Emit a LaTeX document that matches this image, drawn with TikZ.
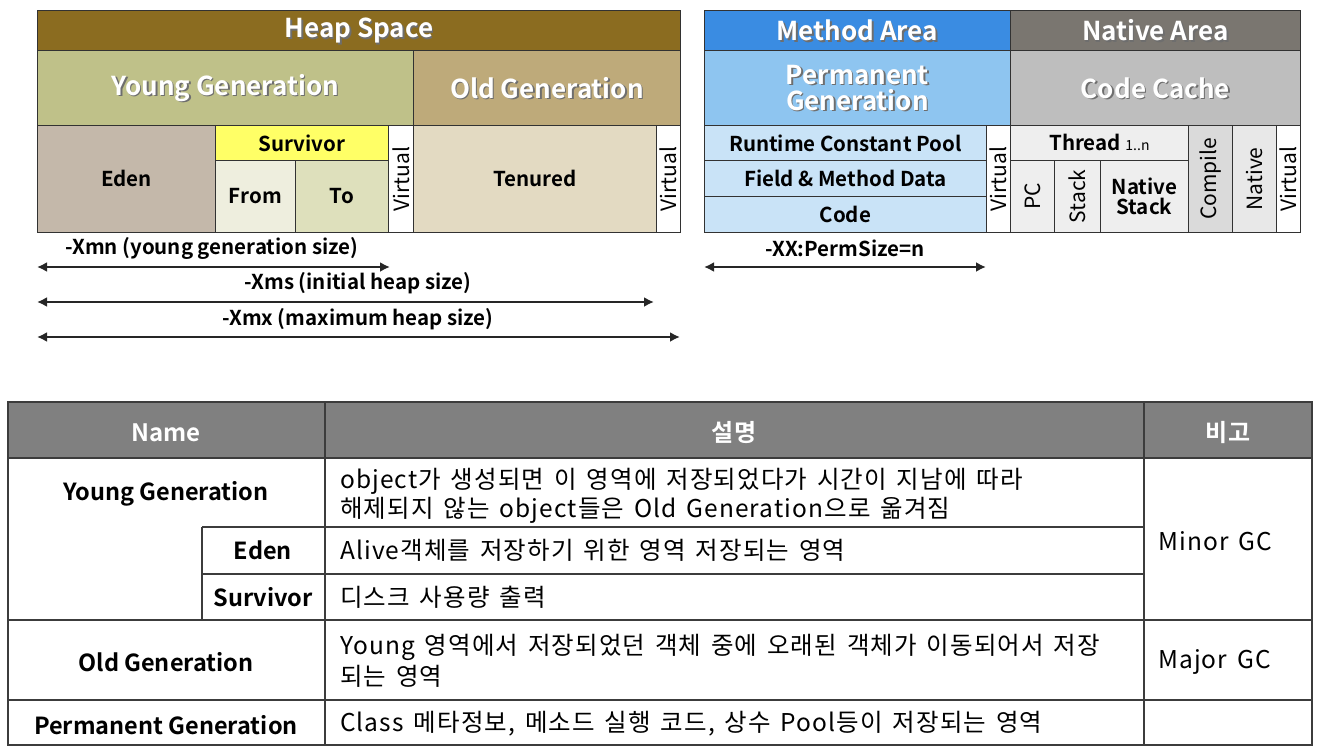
\documentclass[tikz,border=0pt]{standalone}
\usepackage{fontspec}
\setmainfont{Noto Sans CJK KR}[BoldFont={Noto Sans CJK KR Bold}]
\newfontfamily\tblfont{Noto Sans CJK KR}[WordSpace=1.5, LetterSpace=4.5]
\usetikzlibrary{arrows.meta}
\definecolor{heapbrown}{RGB}{139,108,32}
\definecolor{younggreen}{RGB}{191,193,137}
\definecolor{oldtan}{RGB}{190,170,122}
\definecolor{edengray}{RGB}{196,184,170}
\definecolor{survyellow}{RGB}{255,255,102}
\definecolor{fromfill}{RGB}{238,238,222}
\definecolor{tofill}{RGB}{222,224,188}
\definecolor{tenuredfill}{RGB}{227,218,194}
\definecolor{methodblue}{RGB}{58,140,226}
\definecolor{nativegray}{RGB}{122,118,112}
\definecolor{permblue}{RGB}{142,197,240}
\definecolor{cachegray}{RGB}{190,190,190}
\definecolor{poolblue}{RGB}{201,227,247}
\definecolor{threadgray}{RGB}{238,238,238}
\definecolor{compilegray}{RGB}{218,218,218}
\definecolor{nativecell}{RGB}{232,232,232}
\definecolor{cellline}{RGB}{50,50,50}
\definecolor{shadowgray}{RGB}{110,110,110}
\definecolor{tblhead}{RGB}{128,128,128}
\definecolor{tblline}{RGB}{60,60,60}
\tikzset{
  box_cell/.style = {draw=cellline, line width=0.8pt, inner sep=0pt,
    anchor=north west},% case du schema
  big_txt/.style = {font=\fontsize{26}{29}\bfseries\selectfont, align=center},% titre de zone
  head_txt/.style = {font=\fontsize{26}{29}\bfseries\selectfont},% titre du bandeau
  cell_txt/.style = {font=\fontsize{20.5}{23}\bfseries\selectfont, align=center,
    text=black},% texte de case
  side_txt/.style = {font=\fontsize{21}{23}\selectfont, rotate=90, text=black},% texte vertical
  dim_txt/.style = {font=\fontsize{20.5}{24}\bfseries\selectfont},% option de taille
  dim_arrow/.style = {{Latex[length=10pt,width=10pt]}-{Latex[length=10pt,width=10pt]},
    line width=2pt, draw=black!85},% fleche de taille
  tbl_line/.style = {draw=tblline, line width=1.4pt},% trait du tableau
  tbl_head/.style = {font=\fontsize{24}{28}\bfseries\selectfont, text=white},
  tbl_name/.style = {font=\fontsize{23.5}{27}\bfseries\selectfont},
  tbl_txt/.style = {font=\tblfont\fontsize{24.5}{28}\selectfont, anchor=west, inner sep=0pt}
}
% case : nom, x, y, couleur, largeur, hauteur
\newcommand{\blk}[6]{\node[box_cell, fill=#4, minimum width=#5pt,
  minimum height=#6pt] (#1) at (#2,#3) {};}
% titre blanc ombre : nom, case, style, texte
\newcommand{\shd}[4]{\node[#3, text=shadowgray, xshift=1.6pt, yshift=-1.6pt]
  at (#2.center) {#4};
  \node[#3, text=white] (#1) at (#2.center) {#4};}

\begin{document}
\begin{tikzpicture}[x=1pt, y=-1pt]
  \useasboundingbox (0,0) rectangle (1320,752);
  % heap
  \blk{heap}{37}{10}{heapbrown}{643}{40}
  \blk{young}{37}{50}{younggreen}{376}{75}
  \blk{old}{413}{50}{oldtan}{267}{75}
  \blk{eden}{37}{125}{edengray}{178}{107}
  \blk{surv}{215}{125}{survyellow}{173}{35}
  \blk{from}{215}{160}{fromfill}{80}{72}
  \blk{to}{295}{160}{tofill}{93}{72}
  \blk{virt_y}{388}{125}{white}{25}{107}
  \blk{tenured}{413}{125}{tenuredfill}{243}{107}
  \blk{virt_o}{656}{125}{white}{24}{107}
  \shd{heap_t}{heap}{head_txt}{Heap Space}
  \shd{young_t}{young}{big_txt}{Young Generation}
  \shd{old_t}{old}{big_txt}{Old Generation}
  \node[cell_txt] (eden_t) at (eden.center) {Eden};
  \node[cell_txt] (surv_t) at (surv.center) {Survivor};
  \node[cell_txt] (from_t) at (from.center) {From};
  \node[cell_txt] (to_t) at (to.center) {To};
  \node[side_txt] (virt_y_t) at (virt_y.center) {Virtual};
  \node[cell_txt] (tenured_t) at (tenured.center) {Tenured};
  \node[side_txt] (virt_o_t) at (virt_o.center) {Virtual};
  % method / native
  \blk{method}{704}{10}{methodblue}{306}{40}
  \blk{native}{1010}{10}{nativegray}{290}{40}
  \blk{perm}{704}{50}{permblue}{306}{75}
  \blk{cache}{1010}{50}{cachegray}{290}{75}
  \blk{pool}{704}{125}{poolblue}{282}{35}
  \blk{field}{704}{160}{poolblue}{282}{36}
  \blk{code}{704}{196}{poolblue}{282}{36}
  \blk{virt_m}{986}{125}{white}{24}{107}
  \blk{thread}{1010}{125}{threadgray}{178}{35}
  \blk{pc}{1010}{160}{threadgray}{44}{72}
  \blk{stack}{1054}{160}{threadgray}{46}{72}
  \blk{nstack}{1100}{160}{threadgray}{88}{72}
  \blk{compile}{1188}{125}{compilegray}{44}{107}
  \blk{nat}{1232}{125}{nativecell}{44}{107}
  \blk{virt_n}{1276}{125}{white}{24}{107}
  \shd{method_t}{method}{head_txt}{Method Area}
  \shd{native_t}{native}{head_txt}{Native Area}
  \shd{perm_t}{perm}{big_txt}{Permanent\\[-3pt]Generation}
  \shd{cache_t}{cache}{big_txt}{Code Cache}
  \node[cell_txt] (pool_t) at (pool.center) {Runtime Constant Pool};
  \node[cell_txt] (field_t) at (field.center) {Field \& Method Data};
  \node[cell_txt] (code_t) at (code.center) {Code};
  \node[side_txt] (virt_m_t) at (virt_m.center) {Virtual};
  \node[cell_txt] (thread_t) at (thread.center) {Thread {\fontsize{14}{16}\mdseries\selectfont 1..n}};
  \node[side_txt] (pc_t) at (pc.center) {PC};
  \node[side_txt] (stack_t) at (stack.center) {Stack};
  \node[cell_txt] (nstack_t) at (nstack.center) {Native\\[-3pt]Stack};
  \node[side_txt] (compile_t) at (compile.center) {Compile};
  \node[side_txt] (nat_t) at (nat.center) {Native};
  \node[side_txt] (virt_n_t) at (virt_n.center) {Virtual};
  % options de taille
  \coordinate (xmn_l) at (37,267);  \coordinate (xmn_r) at (390,267);
  \coordinate (xms_l) at (37,302);  \coordinate (xms_r) at (654,302);
  \coordinate (xmx_l) at (37,337);  \coordinate (xmx_r) at (680,337);
  \coordinate (perm_l) at (704,267); \coordinate (perm_r) at (986,267);
  \draw[dim_arrow] (xmn_l) -- (xmn_r);
  \draw[dim_arrow] (xms_l) -- (xms_r);
  \draw[dim_arrow] (xmx_l) -- (xmx_r);
  \draw[dim_arrow] (perm_l) -- (perm_r);
  \node[dim_txt] (xmn) at (212,248) {-Xmn (young generation size)};
  \node[dim_txt] (xms) at (358,283) {-Xms (initial heap size)};
  \node[dim_txt] (xmx) at (358,319) {-Xmx (maximum heap size)};
  \node[dim_txt] (permsize) at (845,248) {-XX:PermSize=n};
  % tableau
  \fill[tblhead] (8,402) rectangle (1312,458);
  \draw[tbl_line] (8,402) rectangle (1312,745);
  \draw[tbl_line] (325,402) -- (325,745);
  \draw[tbl_line] (1144,402) -- (1144,745);
  \draw[tbl_line] (202,527) -- (202,620);
  \draw[tbl_line] (8,458) -- (1312,458);
  \draw[tbl_line] (202,527) -- (1144,527);
  \draw[tbl_line] (202,574) -- (1144,574);
  \draw[tbl_line] (8,620) -- (1312,620);
  \draw[tbl_line] (8,700) -- (1312,700);
  \node[tbl_head] (h_name) at (166,433) {Name};
  \node[tbl_head] (h_desc) at (734,433) {설명};
  \node[tbl_head] (h_note) at (1228,433) {비고};
  \node[tbl_name] (r_young) at (166,494) {Young Generation};
  \node[tbl_txt] (d_young1) at (340,481) {object가 생성되면 이 영역에 저장되었다가 시간이 지남에 따라};
  \node[tbl_txt] (d_young2) at (340,510) {해제되지 않는 object들은 Old Generation으로 옮겨짐};
  \node[tbl_name] (r_eden) at (263,550) {Eden};
  \node[tbl_txt] (d_eden) at (340,550) {Alive객체를 저장하기 위한 영역 저장되는 영역};
  \node[tbl_name] (r_surv) at (263,597) {Survivor};
  \node[tbl_txt] (d_surv) at (340,597) {디스크 사용량 출력};
  \node[tbl_txt] (n_minor) at (1158,541) {Minor GC};
  \node[tbl_name] (r_old) at (166,662) {Old Generation};
  \node[tbl_txt] (d_old1) at (340,647) {Young 영역에서 저장되었던 객체 중에 오래된 객체가 이동되어서 저장};
  \node[tbl_txt] (d_old2) at (340,676) {되는 영역};
  \node[tbl_txt] (n_major) at (1158,662) {Major GC};
  \node[tbl_name] (r_perm) at (166,725) {Permanent Generation};
  \node[tbl_txt] (d_perm) at (340,724) {Class 메타정보, 메소드 실행 코드, 상수 Pool등이 저장되는 영역};
\end{tikzpicture}
\end{document}
